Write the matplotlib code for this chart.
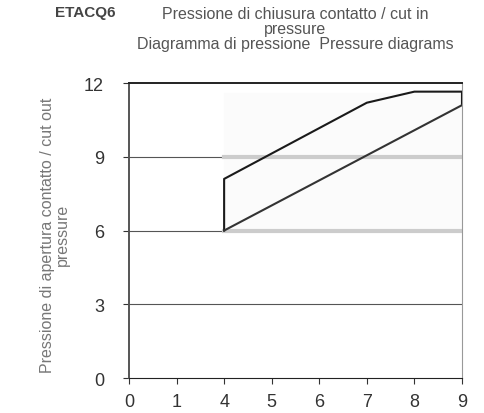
import numpy as np
import matplotlib
matplotlib.use("Agg")
import matplotlib.pyplot as plt

plt.rcParams['font.family'] = ['Liberation Sans', 'DejaVu Sans']

# categorical x axis (labels are not evenly spaced numbers)
x_labels = ['0', '1', '4', '5', '6', '7', '8', '9']
y_ticks = [0, 3, 6, 9, 12]

# upper curve (cut-in) and lower curve (cut-out), x as label values
upper_x = ['4', '4', '7', '8', '9', '9']
upper_y = [6, 8.1, 11.2, 11.65, 11.65, 11.15]
lower_x = ['4', '9']
lower_y = [6, 11.1]

band_x = ['4', '9']
band_lines = [6, 9]

pos = {lab: i for i, lab in enumerate(x_labels)}

fig = plt.figure(figsize=(4.84, 4.14), dpi=100)
ax = fig.add_axes([0.2665, 0.0845, 0.688, 0.7125])

# faint area and light grey band lines
bx = [pos[v] for v in band_x]
ax.fill_between(bx, 6, 11.6, color='#fbfbfb', zorder=0)
for yv in band_lines:
    ax.plot(bx, [yv, yv], color='#cccccc', lw=3, zorder=1)

# horizontal grid
for yv in [3, 6, 9]:
    ax.axhline(yv, color='#555555', lw=0.8, zorder=0.5)

ax.plot([pos[v] for v in upper_x], upper_y, color='#1a1a1a', lw=1.5, zorder=3)
ax.plot([pos[v] for v in lower_x], lower_y, color='#333333', lw=1.5, zorder=3)

ax.set_xlim(0, len(x_labels) - 1)
ax.set_ylim(0, 12)
ax.set_xticks(range(len(x_labels)))
ax.set_xticklabels(x_labels)
ax.set_yticks(y_ticks)
ax.tick_params(axis='both', labelsize=13, colors='#333333', length=4, width=0.8)
ax.tick_params(axis='y', pad=14)
ax.tick_params(axis='x', pad=7)

ax.spines['top'].set_color('#222222')
ax.spines['top'].set_linewidth(1.4)
ax.spines['left'].set_color('#555555')
ax.spines['left'].set_linewidth(1.4)
ax.spines['right'].set_color('#999999')
ax.spines['bottom'].set_color('#222222')

fig.text(55 / 484, 1 - 235 / 414,
         'Pressione di apertura contatto / cut out\npressure',
         fontsize=11.5, color='#777777', rotation=90, ha='center', va='center',
         linespacing=1.05)

fig.text(85 / 484, 1 - 13 / 414, 'ETACQ6', fontsize=11, fontweight='bold',
         color='#444444', ha='center', va='center')
fig.text(295 / 484, 1 - 7 / 414, 'Pressione di chiusura contatto / cut in\npressure\n'
         'Diagramma di pressione  Pressure diagrams',
         fontsize=11.5, color='#555555', ha='center', va='top', linespacing=0.98)

fig.savefig('out.png', dpi=100)
